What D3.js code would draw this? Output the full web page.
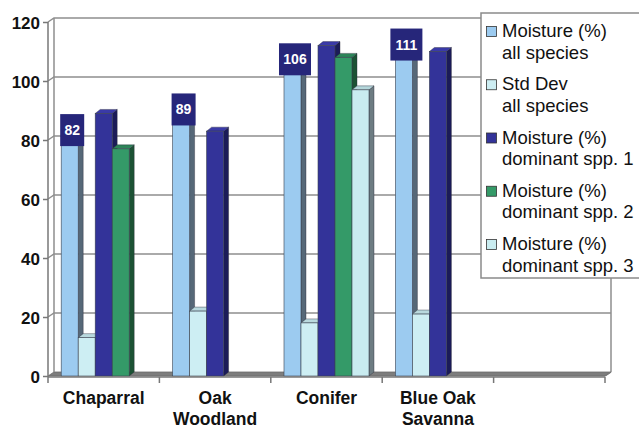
<!DOCTYPE html>
<html><head><meta charset="utf-8">
<script src="https://cdn.jsdelivr.net/npm/d3@7"></script>
<style>body{margin:0;background:#fff}svg{display:block}text{font-family:"Liberation Sans",Arial,sans-serif}</style>
</head><body><svg id="c" width="639" height="429"></svg>
<script>
const categories = ["Chaparral", "Oak Woodland", "Conifer", "Blue Oak Savanna", ""];
const categoryLines = [["Chaparral"], ["Oak", "Woodland"], ["Conifer"], ["Blue Oak", "Savanna"], [""]];
const seriesKeys = ["allSpecies", "stdDev", "dom1", "dom2", "dom3"];
const legendLines = [["Moisture (%)", "all species"], ["Std Dev", "all species"], ["Moisture (%)", "dominant spp. 1"], ["Moisture (%)", "dominant spp. 2"], ["Moisture (%)", "dominant spp. 3"]];
const allSpecies = [82, 89, 106, 111, null];
const stdDev = [13, 22, 18, 21, null];
const dom1 = [89, 83, 112, 110, null];
const dom2 = [77, null, 108, null, null];
const dom3 = [null, null, 97, null, null];
const labeled = [82, 89, 106, 111, null];
const yTicks = [0, 20, 40, 60, 80, 100, 120];

const seriesValues = {allSpecies, stdDev, dom1, dom2, dom3};
const colors = {
  allSpecies: {front: "#9ccbf0", top: "#b8daf5", side: "#566878"},
  stdDev: {front: "#cdeef3", top: "#b9d9de", side: "#6c8088"},
  dom1: {front: "#333399", top: "#3a3aa8", side: "#1b1b58"},
  dom2: {front: "#349a68", top: "#2d8559", side: "#1c5234"},
  dom3: {front: "#c9ecf0", top: "#b4d6da", side: "#6d7c82"}
};

const svg = d3.select("#c");
const X0 = 48, X1 = 605, YF0 = 376, YF120 = 22;
const DX = 6, DY = -4;      // wall depth
const BDX = 5, BDY = -4;    // bar depth

const x = d3.scaleBand().domain(categories).range([X0, X1]).paddingInner(0).paddingOuter(0);
const xs = d3.scaleBand().domain(seriesKeys).range([0, x.bandwidth()]).paddingInner(0).paddingOuter(0.776);
const y = d3.scaleLinear().domain([0, 120]).range([YF0, YF120]);

// floor
svg.append("polygon")
  .attr("points", [[X0, YF0], [X1, YF0], [X1 + DX, YF0 + DY], [X0 + DX, YF0 + DY]].join(" "))
  .attr("fill", "#7d7d7d").attr("stroke", "#6a6a6a").attr("stroke-width", 0.8);

// gridlines on side wall & back wall
const grid = svg.append("g").attr("stroke", "#8e8e8e").attr("stroke-width", 1.5).attr("fill", "none");
yTicks.filter(t => t > 0).forEach(t => {
  grid.append("polyline")
    .attr("points", [[X0, y(t)], [X0 + DX, y(t) + DY], [X1 + DX, y(t) + DY]].join(" "));
});
grid.append("line").attr("x1", X0 + DX).attr("x2", X0 + DX).attr("y1", y(120) + DY).attr("y2", y(0) + DY);
grid.append("line").attr("x1", X1 + DX).attr("x2", X1 + DX).attr("y1", y(120) + DY).attr("y2", y(0) + DY);

// bars
const bars = svg.append("g");
categories.forEach((c, ci) => {
  seriesKeys.forEach(k => {
    const v = seriesValues[k][ci];
    if (v == null) return;
    const bx = x(c) + xs(k), w = xs.bandwidth();
    const yt = y(v), yb = y(0);
    const col = colors[k];
    bars.append("polygon")
      .attr("points", [[bx + w, yt], [bx + w + BDX, yt + BDY], [bx + w + BDX, yb + BDY], [bx + w, yb]].join(" "))
      .attr("fill", col.side).attr("stroke", "#2a2a3a").attr("stroke-width", 0.4);
    bars.append("polygon")
      .attr("points", [[bx, yt], [bx + BDX, yt + BDY], [bx + w + BDX, yt + BDY], [bx + w, yt]].join(" "))
      .attr("fill", col.top).attr("stroke", "#2a2a3a").attr("stroke-width", 0.4);
    bars.append("rect")
      .attr("x", bx).attr("y", yt).attr("width", w).attr("height", yb - yt)
      .attr("fill", col.front).attr("stroke", "#3a4250").attr("stroke-width", 0.6);
  });
});

// data labels
const lab = svg.append("g");
categories.forEach((c, ci) => {
  const v = labeled[ci];
  if (v == null) return;
  const bx = x(c) + xs("allSpecies"), w = xs.bandwidth();
  const cx = bx + (w + BDX) / 2;
  const cy = y(v) + BDY;
  const txt = String(v);
  const bw = txt.length * 8 + 8;
  lab.append("rect").attr("x", cx - bw / 2).attr("y", cy - 16).attr("width", bw).attr("height", 32)
    .attr("fill", "#26267a");
  lab.append("text").attr("x", cx).attr("y", cy + 5).attr("text-anchor", "middle")
    .attr("fill", "#fff").attr("font-weight", "bold").attr("font-size", 14).text(txt);
});

// front axis lines
const ax = svg.append("g").attr("stroke", "#777").attr("stroke-width", 1.5);
ax.append("line").attr("x1", X0).attr("x2", X0).attr("y1", y(120)).attr("y2", y(0) + 1);
ax.append("line").attr("x1", X0).attr("x2", X1).attr("y1", y(0) + 1).attr("y2", y(0) + 1);
ax.append("line").attr("x1", X1).attr("x2", X1 + DX).attr("y1", y(0)).attr("y2", y(0) + DY);

// y axis ticks & labels
const yAxis = d3.axisLeft(y).tickValues(yTicks).tickSize(5).tickPadding(3).tickFormat(d3.format("d"));
const yg = svg.append("g").attr("transform", `translate(${X0},0)`).call(yAxis);
yg.select(".domain").remove();
yg.selectAll(".tick line").attr("stroke", "#777").attr("stroke-width", 1.5);
yg.selectAll(".tick text").attr("font-size", 17).attr("font-weight", "bold").attr("fill", "#111")
  .attr("font-family", "Liberation Sans, Arial, sans-serif").attr("dy", "0.36em");

// x axis ticks
const xb = categories.map(c => x(c)).concat([X1]);
svg.append("g").selectAll("line").data(xb).join("line")
  .attr("x1", d => d).attr("x2", d => d).attr("y1", y(0) + 1).attr("y2", y(0) + 7)
  .attr("stroke", "#777").attr("stroke-width", 1.5);

// category labels
const cl = svg.append("g");
categories.forEach((c, ci) => {
  const t = cl.append("text").attr("x", x(c) + x.bandwidth() / 2).attr("y", 404)
    .attr("text-anchor", "middle").attr("font-size", 17.5).attr("font-weight", "bold").attr("fill", "#111");
  categoryLines[ci].forEach((ln, li) => {
    t.append("tspan").attr("x", x(c) + x.bandwidth() / 2).attr("dy", li === 0 ? 0 : 21).text(ln);
  });
});

// legend
const lg = svg.append("g");
lg.append("rect").attr("x", 481).attr("y", 13).attr("width", 170).attr("height", 265)
  .attr("fill", "#fff").attr("stroke", "#8a8a8a").attr("stroke-width", 1.5);
seriesKeys.forEach((k, i) => {
  const base = 37 + i * 53.25;
  lg.append("rect").attr("x", 486.5).attr("y", base - 10.5).attr("width", 10).attr("height", 10)
    .attr("fill", colors[k].front).attr("stroke", "#333").attr("stroke-width", 0.8);
  const t = lg.append("text").attr("x", 502).attr("y", base).attr("font-size", 18.5).attr("fill", "#111");
  legendLines[i].forEach((ln, li) => {
    t.append("tspan").attr("x", 502).attr("dy", li === 0 ? 0 : 21.5).text(ln);
  });
});
</script></body></html>
